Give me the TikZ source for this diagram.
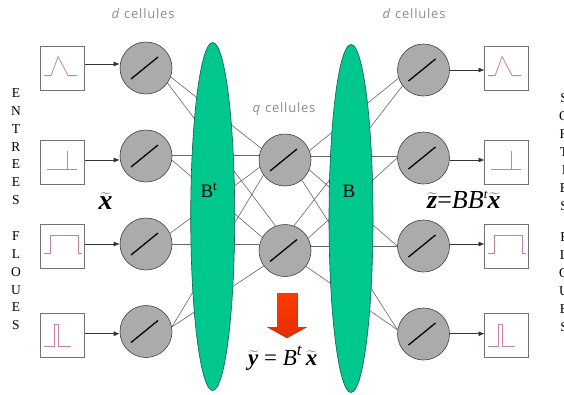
\documentclass[tikz,border=0pt]{standalone}
\usepackage{fontspec}
\setmainfont{Liberation Serif}
\setsansfont[LetterSpace=6]{Open Sans}
\usetikzlibrary{shapes.geometric,arrows.meta}
\pgfdeclarelayer{back}
\pgfsetlayers{back,main}
\definecolor{cellgray}{HTML}{ABABAB}
\definecolor{lens}{HTML}{00C78E}
\definecolor{lensedge}{HTML}{0B5F48}
\definecolor{pinkline}{HTML}{C77FA5}
\definecolor{labelgray}{HTML}{8C8C8C}
\definecolor{arrowtop}{HTML}{FF3A00}
\definecolor{arrowlow}{HTML}{E22E05}
\tikzset{
  sigbox/.style={draw=black!55,line width=0.8pt,fill=white,minimum size=44pt,inner sep=0pt},
  cell/.style={circle,draw=black!75,line width=0.6pt,fill=cellgray,minimum size=52pt,inner sep=0pt},
  lensshape/.style={ellipse,draw=lensedge,line width=0.6pt,fill=lens,minimum width=44pt,minimum height=348pt,inner sep=0pt},
  link/.style={draw=black!60,line width=0.6pt},
  linkh/.style={draw=black!60,line width=0.8pt},
  feed/.style={draw=black!80,line width=0.6pt,-{Latex[length=6pt,width=5pt]}},
  slash/.style={line width=1.3pt,black},
  curve/.style={draw=pinkline,line width=0.8pt},
  colletter/.style={align=center,font=\fontsize{13.5}{18}\selectfont,inner sep=0pt},
  cellcount/.style={text=labelgray,inner sep=0pt,font=\sffamily\fontsize{13}{15}\selectfont}
}
\newcommand{\sigTri}[1]{\draw[curve,shift={(#1.north west)}] (4,30)--(11,30)--(18,11)--(28,30)--(37,30);}
\newcommand{\sigSpike}[1]{\draw[curve,shift={(#1.north west)}] (6.5,30)--(37,30) (27.5,30)--(27.5,11.7);}
\newcommand{\sigWide}[1]{\draw[curve,shift={(#1.north west)}] (3.8,29.4)--(10.5,29.4)--(10.5,11)--(38.2,11)--(38.2,29.4)--(41.5,29.4);}
\newcommand{\sigThin}[1]{\draw[curve,shift={(#1.north west)}] (3.8,33.3)--(13.8,33.3)--(13.8,11.3)--(17.8,11.3)--(17.8,33.3)--(30.8,33.3);}
\newcommand{\cellnode}[3]{\node[cell] (#1) at (#2,#3) {}; \draw[slash] (#1)+(-15,11)--+(12,-11);}
\newcommand{\bi}[1]{\mbox{\bfseries\itshape #1}}
\begin{document}
\begin{tikzpicture}[x=1pt,y=-1pt]
\begin{pgfonlayer}{back}
\fill[white] (0,0) rectangle (564,394);
\end{pgfonlayer}
\useasboundingbox (0,0) rectangle (564,394);
% lenses
\node[lensshape] (bt) at (212.7,216.5) {};
\node[lensshape] (bb) at (351,218.5) {};
% cells
\cellnode{l1}{146}{68}
\cellnode{l2}{146}{156}
\cellnode{l3}{146}{244}
\cellnode{l4}{146}{331.5}
\cellnode{m1}{285}{160}
\cellnode{m2}{285}{250.5}
\cellnode{r1}{423.5}{70}
\cellnode{r2}{423.5}{158}
\cellnode{r3}{423.5}{246}
\cellnode{r4}{423.5}{334}
% boxes
\node[sigbox] (a1) at (62.5,68) {};
\node[sigbox] (a2) at (62.5,162) {};
\node[sigbox] (a3) at (62.5,246.3) {};
\node[sigbox] (a4) at (62.5,335) {};
\node[sigbox] (c1) at (506.5,68) {};
\node[sigbox] (c2) at (506.5,162) {};
\node[sigbox] (c3) at (506.5,246.3) {};
\node[sigbox] (c4) at (506.5,335) {};
\sigTri{a1}\sigSpike{a2}\sigWide{a3}\sigThin{a4}
\sigTri{c1}\sigSpike{c2}\sigWide{c3}\sigThin{c4}
% links behind everything
\begin{pgfonlayer}{back}
\draw[link] (l1.-20) -- (m1.154);
\draw[link] (l1.-35) -- (m2.111);
\draw[linkh] ([yshift=1pt]l2.east) -- ([yshift=1pt]l2.east -| m1.west);
\draw[link] (l2.-9) -- (m2.150);
\draw[link] (l3.24) -- (m1.196);
\draw[linkh] (l3.east) -- (l3.east -| m2.west);
\draw[link] (l4.10) -- (m1.215);
\draw[link] (l4.10) -- (m2.216);
\draw[link] (m1.21) -- (r1.198);
\draw[link] (m2.70) -- (r1.217);
\draw[linkh] ([yshift=2pt]r2.west -| m1.east) -- ([yshift=2pt]r2.west);
\draw[link] (m2.28) -- (r2.west);
\draw[link] (m1.-22) -- (r3.west);
\draw[linkh] (r3.west -| m2.east) -- (r3.west);
\draw[link] (m1.-50) -- (r4.171);
\draw[link] (m2.-37) -- (r4.171);
\end{pgfonlayer}
% feeds
\coordinate (fa1) at (85,64);
\coordinate (fa2) at (85,160);
\coordinate (fa3) at (85,244);
\coordinate (fa4) at (85,333.7);
\draw[feed] (fa1) -- (fa1 -| l1.west);
\draw[feed] (fa2) -- (fa2 -| l2.west);
\draw[feed] (fa3) -- (fa3 -| l3.west);
\draw[feed] (fa4) -- (fa4 -| l4.west);
\coordinate (fc1) at (484.5,70);
\coordinate (fc2) at (484.5,160);
\coordinate (fc3) at (484.5,244);
\coordinate (fc4) at (484.5,333.7);
\draw[feed] (fc1 -| r1.east) -- (fc1);
\draw[feed] (fc2 -| r2.east) -- (fc2);
\draw[feed] (fc3 -| r3.east) -- (fc3);
\draw[feed] (fc4 -| r4.east) -- (fc4);
% red arrow
\fill[top color=arrowtop,bottom color=arrowlow]
  (277,293)--(297.7,293)--(297.7,327)--(307,327)--(287,338)--(267,327)--(277,327)--cycle;
% labels
\node[cellcount] (t1) at (143,14) {\textit{d} cellules};
\node[cellcount] (t2) at (414,14) {\textit{d} cellules};
\node[cellcount] (t3) at (284,109) {\textit{q} cellules};
\node[anchor=base,inner sep=0pt,font=\fontsize{19}{22}\selectfont] (lb1) at (209,197) {B\textsuperscript{t}};
\node[anchor=base,inner sep=0pt,font=\fontsize{19}{22}\selectfont] (lb2) at (349,197) {B};
\node[anchor=base,inner sep=0pt,font=\fontsize{28}{30}\selectfont] (xt) at (105.5,209) {$\widetilde{\bi{x}}$};
\node[anchor=base west,inner sep=0pt,font=\fontsize{26}{28}\selectfont] (zt) at (427,208) {$\widetilde{\bi{z}}$=\textit{BB}\raisebox{0.35em}{\fontsize{13}{14}\selectfont\textit{t}}$\widetilde{\bi{x}}$};
\node[anchor=base west,inner sep=0pt,font=\fontsize{23}{25}\selectfont] (yt) at (248,365) {$\widetilde{\bi{y}}$ = \textit{B}\raisebox{0.4em}{\fontsize{17}{18}\selectfont\textit{t}}\,$\widetilde{\bi{x}}$};
% side columns
\foreach \ch/\yy in {E/93,N/111,T/129,R/147,E/164,E/182,S/200,F/236,L/254,O/272,U/290,E/307,S/325}
  \node[colletter] at (16,\yy) {\ch};
\foreach \ch/\yy in {S/98,O/116,R/134,T/152,I/170,E/188,S/206,F/237,L/255,O/273,U/291,E/309,S/327}
  \node[colletter] at (564,\yy) {\ch};
\end{tikzpicture}
\end{document}
